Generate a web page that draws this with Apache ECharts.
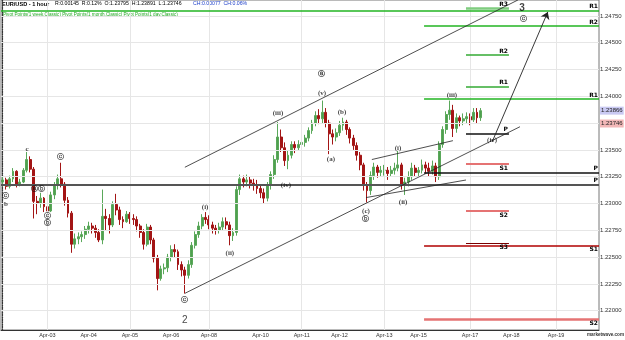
<!DOCTYPE html>
<html>
<head>
<meta charset="utf-8">
<script src="https://cdn.jsdelivr.net/npm/echarts@6/dist/echarts.min.js"></script>
<style>
  html, body { margin: 0; padding: 0; background: #fff; }
  #chart { width: 625px; height: 340px; }
</style>
</head>
<body>
<div id="chart"></div>
<script>
// 2-hour bars
const firstOpen = 1.2320;
const closes = [
  1.2322, 1.2316, 1.2323, 1.2330, 1.2318, 1.2320, 1.2331, 1.2341, 1.2332, 1.2302,
  1.2300, 1.2305, 1.2297, 1.2293, 1.2308, 1.2317, 1.2323, 1.2318, 1.2303, 1.2291,
  1.2262, 1.2267, 1.2269, 1.2271, 1.2276, 1.2279, 1.2277, 1.2273, 1.2266, 1.2288,
  1.2286, 1.2280, 1.2299, 1.2294, 1.2285, 1.2283, 1.2290, 1.2286, 1.2285, 1.2279,
  1.2273, 1.2262, 1.2278, 1.2266, 1.2249, 1.2230, 1.2239, 1.2240, 1.2250, 1.2257,
  1.2255, 1.2243, 1.2238, 1.2233, 1.2243, 1.2261, 1.2271, 1.2279, 1.2287, 1.2285,
  1.2280, 1.2277, 1.2275, 1.2278, 1.2283, 1.2280, 1.2270, 1.2273, 1.2313, 1.2323,
  1.2320, 1.2322, 1.2319, 1.2317, 1.2314, 1.2310, 1.2305, 1.2317, 1.2327, 1.2341,
  1.2362, 1.2352, 1.2340, 1.2345, 1.2355, 1.2352, 1.2355, 1.2357, 1.2361, 1.2368,
  1.2375, 1.2382, 1.2379, 1.2385, 1.2375, 1.2365, 1.2362, 1.2366, 1.2373, 1.2376,
  1.2369, 1.2361, 1.2354, 1.2345, 1.2336, 1.2317, 1.2312, 1.2326, 1.2334, 1.2329,
  1.2331, 1.2331, 1.2328, 1.2331, 1.2333, 1.2336, 1.2317, 1.2320, 1.2325, 1.2333,
  1.2329, 1.2331, 1.2336, 1.2333, 1.2330, 1.2335, 1.2325, 1.2355, 1.2369, 1.2383,
  1.2387, 1.2370, 1.2380, 1.2377, 1.2379, 1.2381, 1.2378, 1.2385, 1.2380, 1.23866
];
const lows = [
  1.2316, 1.2313, 1.2314, 1.2320, 1.2315, 1.2316, 1.2319, 1.2329, 1.2329, 1.2286,
  1.2290, 1.2296, 1.2292, 1.2288, 1.2292, 1.2304, 1.2313, 1.2315, 1.2298, 1.2287,
  1.2254, 1.2258, 1.2262, 1.2264, 1.2267, 1.2272, 1.2272, 1.2268, 1.2264, 1.2262,
  1.2275, 1.2272, 1.2278, 1.2289, 1.2280, 1.2277, 1.2282, 1.2281, 1.2280, 1.2274,
  1.2268, 1.2257, 1.2260, 1.2262, 1.2245, 1.2219, 1.2228, 1.2234, 1.2236, 1.2246,
  1.2250, 1.2238, 1.2232, 1.2216, 1.2230, 1.2240, 1.2258, 1.2268, 1.2276, 1.2281,
  1.2276, 1.2272, 1.2271, 1.2272, 1.2275, 1.2276, 1.2261, 1.2265, 1.2270, 1.2308,
  1.2315, 1.2316, 1.2314, 1.2312, 1.2309, 1.2305, 1.2300, 1.2302, 1.2313, 1.2323,
  1.2338, 1.2348, 1.2335, 1.2332, 1.2342, 1.2347, 1.2349, 1.2351, 1.2353, 1.2358,
  1.2365, 1.2372, 1.2374, 1.2375, 1.2371, 1.2346, 1.2355, 1.2358, 1.2363, 1.2368,
  1.2364, 1.2356, 1.2350, 1.2340, 1.2331, 1.2312, 1.2301, 1.2308, 1.2322, 1.2324,
  1.2325, 1.2326, 1.2322, 1.2325, 1.2327, 1.2330, 1.2313, 1.2308, 1.2316, 1.2322,
  1.2325, 1.2325, 1.2328, 1.2328, 1.2325, 1.2327, 1.2320, 1.2322, 1.2352, 1.2365,
  1.2378, 1.2362, 1.2366, 1.2372, 1.2373, 1.2375, 1.2373, 1.2376, 1.2375, 1.2377
];
const highs = [
  1.2325, 1.2324, 1.2326, 1.2333, 1.2331, 1.2323, 1.2333, 1.2348, 1.2344, 1.2334,
  1.2307, 1.2310, 1.2306, 1.2300, 1.2311, 1.2320, 1.2327, 1.2338, 1.2320, 1.2306,
  1.2293, 1.2272, 1.2273, 1.2274, 1.2279, 1.2283, 1.2282, 1.2280, 1.2276, 1.2313,
  1.2295, 1.2290, 1.2302, 1.2309, 1.2297, 1.2288, 1.2293, 1.2292, 1.2290, 1.2288,
  1.2281, 1.2276, 1.2281, 1.2280, 1.2268, 1.2252, 1.2242, 1.2244, 1.2253, 1.2261,
  1.2262, 1.2257, 1.2246, 1.2241, 1.2247, 1.2264, 1.2274, 1.2283, 1.2290, 1.2292,
  1.2289, 1.2283, 1.2280, 1.2282, 1.2287, 1.2287, 1.2283, 1.2277, 1.2316, 1.2327,
  1.2326, 1.2327, 1.2325, 1.2323, 1.2322, 1.2318, 1.2314, 1.2320, 1.2330, 1.2345,
  1.2376, 1.2369, 1.2357, 1.2349, 1.2358, 1.2358, 1.2359, 1.2361, 1.2364, 1.2371,
  1.2378, 1.2386, 1.2388, 1.2396, 1.2389, 1.2378, 1.2369, 1.2370, 1.2377, 1.2380,
  1.2378, 1.2371, 1.2364, 1.2357, 1.2348, 1.2338, 1.2320, 1.2330, 1.2338, 1.2336,
  1.2335, 1.2336, 1.2334, 1.2335, 1.2338, 1.2349, 1.2338, 1.2324, 1.2330, 1.2338,
  1.2336, 1.2334, 1.2341, 1.2339, 1.2338, 1.2340, 1.2338, 1.2358, 1.2372, 1.2386,
  1.2396, 1.2392, 1.2384, 1.2382, 1.2384, 1.2385, 1.2384, 1.2389, 1.2389, 1.2389
];

const barCount = 174;
const dayLabels = ['Apr-03', 'Apr-04', 'Apr-05', 'Apr-06', 'Apr-08', 'Apr-10', 'Apr-11',
  'Apr-12', 'Apr-13', 'Apr-15', 'Apr-17', 'Apr-18', 'Apr-19'];
const dayBars = [13, 25, 37, 49, 60, 75, 87, 98, 111, 121, 136, 148, 161];
const gridDays = ['Apr-03', 'Apr-05', 'Apr-08', 'Apr-11', 'Apr-13', 'Apr-17', 'Apr-19'];
const priceTicks = [1.2200, 1.2225, 1.2250, 1.2275, 1.2300, 1.2325, 1.2350, 1.2375,
  1.2400, 1.2425, 1.2450, 1.2475];

// pivot levels: [name, value]
const monthlyPivots = [['R1', 1.2480], ['P', 1.23177]];
const weeklyPivots = [['R2', 1.24656], ['R1', 1.23975], ['P', 1.23291], ['S1', 1.22606], ['S2', 1.21923]];
const dailyPivots = [['R3', 1.24819], ['R2', 1.24385], ['R1', 1.24089], ['P', 1.23655],
  ['S1', 1.23366], ['S2', 1.22930], ['S3', 1.22629]];

// trend lines: [bar0, price0, bar1, price1]
const trendLines = [
  [53.0, 1.23338, 149.9, 1.24898],
  [53.0, 1.22162, 150.5, 1.23716],
  [107.4, 1.23410, 131.0, 1.23586],
  [105.7, 1.23055, 134.8, 1.23219]
];
const arrowLine = [142.4, 1.23574, 158.6, 1.24786];

// wave labels: [text, bar, price]
const waveLabels = [
  ['ⓒ', 0.95, 1.2307], ['b', 0.95, 1.2299], ['c', 7.06, 1.2351], ['ⓐⓑ', 10.27, 1.2313],
  ['ⓒ', 13.17, 1.2288], ['ⓑ', 13.17, 1.2282], ['ⓒ', 16.67, 1.2343],
  ['ⓒ', 53.0, 1.2210], ['2', 53.0, 1.2191],
  ['(i)', 58.9, 1.2297], ['(ii)', 66.1, 1.2254], ['(iii)', 80.1, 1.2384], ['(iv)', 82.4, 1.2317],
  ['(v)', 92.9, 1.2403], ['ⓐ', 92.9, 1.2421], ['(a)', 95.5, 1.2341], ['(b)', 98.7, 1.2385],
  ['(c)', 105.7, 1.2293], ['ⓑ', 105.7, 1.2285],
  ['(i)', 115.0, 1.2352], ['(ii)', 116.5, 1.2301], ['(iii)', 130.7, 1.2401], ['(iv)', 142.4, 1.2359],
  ['3', 151.1, 1.2482], ['ⓒ', 151.4, 1.2472]
];

const lastClose = 1.23866;
const lastLow = 1.23746;

const chart = echarts.init(document.getElementById('chart'));

const categories = [];
for (let i = 0; i < barCount; i++) categories.push(String(i));

const candles = closes.map((c, i) => {
  const o = i === 0 ? firstOpen : closes[i - 1];
  return [o, c, Math.min(lows[i], o, c), Math.max(highs[i], o, c)];
});

const xMin = -0.5;
const xMax = barCount - 0.5;

const pivotStyle = {
  month: { R: ['#22b422', 1.5], P: ['#555', 2], S: ['#b00000', 1.5] },
  week: { R: ['#22b422', 1.5], P: ['#111', 1.5], S1: ['#b00000', 1.5], S2: ['#e57373', 2.5] },
  day: { R3: ['#7fcc7f', 2.5], R: ['#33aa33', 1.5], P: ['#111', 1.5], S: ['#e57373', 2], S3: ['#7a0000', 1] }
};

function pivotLines(list, from, to, kind) {
  return list.map(([name, v]) => {
    const st = pivotStyle[kind][name] || pivotStyle[kind][name[0]];
    return [
      {
        coord: [from, v],
        lineStyle: { color: st[0], width: st[1], type: 'solid' },
        label: {
          show: true, formatter: name,
          position: name[0] === 'S' ? 'insideEndBottom' : 'insideEndTop',
          distance: [1, 1],
          fontSize: 6, fontWeight: 'bold', color: '#000', fontFamily: 'DejaVu Sans'
        }
      },
      { coord: [to, v] }
    ];
  });
}

const gridLines = priceTicks.map(v => [{ coord: [xMin, v] }, { coord: [xMax, v] }])
  .concat(gridDays.map(d => {
    const b = dayBars[dayLabels.indexOf(d)];
    return [{ coord: [b, 1.2182] }, { coord: [b, 1.24898] }];
  }));

const trendData = trendLines.map(t => [{ coord: [t[0], t[1]] }, { coord: [t[2], t[3]] }]);

const option = {
  animation: false,
  grid: { left: 1, right: 26, top: 0, bottom: 10, show: true, borderColor: '#777', borderWidth: 1 },
  xAxis: [
    {
      type: 'category',
      data: categories,
      boundaryGap: true,
      axisLine: { lineStyle: { color: '#333' } },
      axisTick: { interval: (i) => dayBars.includes(i), alignWithLabel: true, length: 2, lineStyle: { color: '#555' } },
      axisLabel: {
        interval: (i) => dayBars.includes(i),
        formatter: (v, i) => dayLabels[dayBars.indexOf(Number(v))] || '',
        fontSize: 5.5, color: '#333', margin: 2, fontFamily: 'Liberation Sans'
      },
      splitLine: { show: false }
    },
    { type: 'value', min: xMin, max: xMax, show: false }
  ],
  yAxis: {
    type: 'value',
    position: 'right',
    min: 1.2182,
    max: 1.24898,
    axisLine: { show: true, lineStyle: { color: '#333', type: 'dotted', width: 1.2 } },
    axisTick: { show: true, customValues: priceTicks, length: 2, lineStyle: { color: '#444' } },
    axisLabel: {
      customValues: priceTicks,
      formatter: (v) => v.toFixed(5),
      fontSize: 6, color: '#333', margin: 1, fontFamily: 'Liberation Sans'
    },
    splitLine: { show: false }
  },
  series: [
    {
      type: 'line', xAxisIndex: 1, data: [], z: 0, silent: true,
      markLine: {
        silent: true, symbol: ['none', 'none'], animation: false,
        label: { show: false },
        lineStyle: { color: '#e6e6e6', width: 1, type: 'solid' },
        data: gridLines
      }
    },
    {
      type: 'candlestick',
      data: candles,
      barWidth: 2.4,
      z: 2,
      itemStyle: {
        color: '#4f9f4f', color0: '#a31515',
        borderColor: '#5aa85a', borderColor0: '#a31515', borderWidth: 1
      }
    },
    {
      type: 'line', xAxisIndex: 1, data: [], z: 3, silent: true,
      markLine: {
        silent: true, symbol: ['none', 'none'], animation: false,
        data: pivotLines(monthlyPivots, xMin, xMax, 'month')
          .concat(pivotLines(weeklyPivots, 122.6, xMax, 'week'))
          .concat(pivotLines(dailyPivots, 134.8, 147.3, 'day'))
      }
    },
    {
      type: 'line', xAxisIndex: 1, data: [], z: 4, silent: true,
      markLine: {
        silent: true, symbol: ['none', 'none'], animation: false,
        label: { show: false },
        lineStyle: { color: '#222', width: 0.8, type: 'solid' },
        data: trendData
      }
    },
    {
      type: 'line', xAxisIndex: 1, data: [], z: 4, silent: true,
      markLine: {
        silent: true, symbol: ['none', 'arrow'], symbolSize: 7, animation: false,
        label: { show: false },
        lineStyle: { color: '#222', width: 0.9, type: 'solid' },
        data: [[{ coord: [arrowLine[0], arrowLine[1]] }, { coord: [arrowLine[2], arrowLine[3]] }]]
      }
    },
    {
      type: 'scatter', xAxisIndex: 1, z: 5, silent: true,
      symbolSize: 1,
      itemStyle: { color: 'rgba(0,0,0,0)' },
      data: waveLabels.map(([t, x, y]) => ({
        name: t, value: [x, y],
        label: (t === '2' || t === '3') ? { fontSize: 10, fontFamily: 'Liberation Sans', fontWeight: t === '3' ? 'bold' : 'normal' } : {}
      })),
      label: {
        show: true, position: 'inside', formatter: '{b}',
        fontSize: 7, color: '#111', fontWeight: 'bold',
        fontFamily: 'Liberation Serif, DejaVu Serif, DejaVu Sans'
      }
    }
  ]
};

chart.setOption(option);

const yLast = chart.convertToPixel({ yAxisIndex: 0 }, lastClose);
const yLow = chart.convertToPixel({ yAxisIndex: 0 }, lastLow);

chart.setOption({
  graphic: [
    { type: 'text', left: 2, top: 1, style: { text: 'EUR/USD - 1 hour', fontSize: 5.6, fontWeight: 'bold', fill: '#000', fontFamily: 'Liberation Sans' } },
    { type: 'text', left: 55, top: 1, style: { text: 'R:0.00145  R:0.12%  O:1.23795  H:1.23891  L:1.23746', fontSize: 5.2, fill: '#000', fontFamily: 'Liberation Sans' } },
    { type: 'text', left: 193, top: 1, style: { text: 'CH:0.00077  CH:0.06%', fontSize: 5.2, fill: '#1a3cc8', fontFamily: 'Liberation Sans' } },
    { type: 'text', left: 3, top: 12, style: { text: 'Pivot Points(1 week,Classic) Pivot Points(1 month,Classic) Pivot Points(1 day,Classic)', fontSize: 4.6, fill: '#22a822', fontFamily: 'Liberation Sans' } },
    { type: 'text', left: 600, top: yLast - 4, z: 10, style: { text: '1.23866', fontSize: 6, fill: '#222', backgroundColor: '#c9c9f2', padding: [1, 1, 1, 1], fontFamily: 'Liberation Sans' } },
    { type: 'text', left: 600, top: yLow - 4, z: 10, style: { text: '1.23746', fontSize: 6, fill: '#222', backgroundColor: '#f2b8b8', padding: [1, 1, 1, 1], fontFamily: 'Liberation Sans' } },
    { type: 'text', right: 1, top: 332, style: { text: 'marketwave.com', fontSize: 4.6, fontWeight: 'bold', fill: '#333', fontFamily: 'Liberation Sans' } }
  ]
});
</script>
</body>
</html>
